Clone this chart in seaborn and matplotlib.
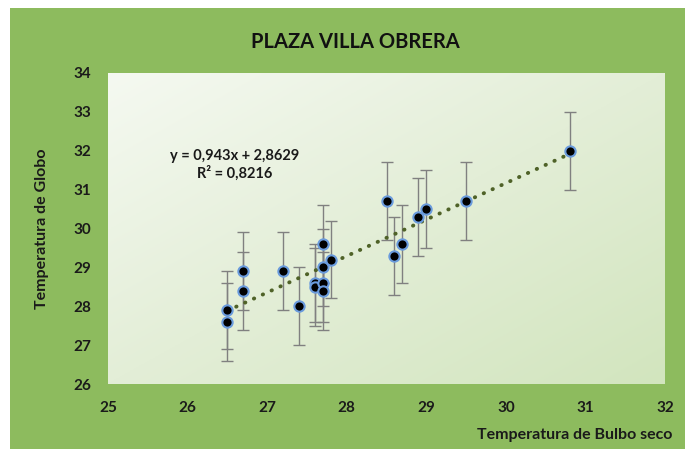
import numpy as np
import pandas as pd
import seaborn as sns
import matplotlib.pyplot as plt
from matplotlib.ticker import MultipleLocator
from matplotlib.colors import LinearSegmentedColormap
from matplotlib.patches import Rectangle

# valores
bulbo_seco = [26.5, 26.5, 26.7, 26.7, 27.2, 27.4, 27.6, 27.6, 27.7, 27.7, 27.7, 27.7,
              27.8, 28.5, 28.6, 28.7, 28.9, 29.0, 29.5, 30.8]
globo = [27.9, 27.6, 28.9, 28.4, 28.9, 28.0, 28.6, 28.5, 29.6, 29.0, 28.6, 28.4,
         29.2, 30.7, 29.3, 29.6, 30.3, 30.5, 30.7, 32.0]
error = [1.0] * len(globo)

titulo = "PLAZA VILLA OBRERA"
ecuacion = "y = 0,943x + 2,8629\nR² = 0,8216"

df = pd.DataFrame({"Bulbo": bulbo_seco, "Globo": globo, "err": error})

sns.set_style("white")
plt.rcParams['font.family'] = ['Lato', 'DejaVu Sans']
plt.rcParams['font.weight'] = 'bold'

fig = plt.figure(figsize=(6.85, 4.49), dpi=100, facecolor="white")
# fondo verde del area del grafico
fig.patches.append(Rectangle((10 / 685, 0), 1, 1 - 8 / 449, transform=fig.transFigure,
                             facecolor="#8DBB5E", edgecolor="none", zorder=-10))

ax = fig.add_axes([108 / 685, 1 - 384 / 449, 557 / 685, 311 / 449])
ax.set_facecolor("none")

# degradado del area de trazado
cmap = LinearSegmentedColormap.from_list("g", ["#F5F9F1", "#E3EED7", "#D2E5BE"])
gx, gy = np.meshgrid(np.linspace(0, 1, 200), np.linspace(0, 1, 200))
grad = (gx + gy) / 2
ax.imshow(grad, cmap=cmap, extent=[0, 1, 0, 1], transform=ax.transAxes,
          aspect="auto", origin="upper", zorder=0)

ax.errorbar(df["Bulbo"], df["Globo"], yerr=df["err"], fmt="none", ecolor="#808080",
            elinewidth=1, capsize=4, capthick=1, zorder=2)

sns.regplot(data=df, x="Bulbo", y="Globo", scatter=False, ci=None, truncate=True, ax=ax,
            line_kws=dict(color="#4F6228", lw=2.8, linestyle=(0, (0.1, 2.4)),
                          dash_capstyle="round", zorder=3))

sns.scatterplot(data=df, x="Bulbo", y="Globo", ax=ax, color="black", s=55,
                edgecolor="#6A9BDD", linewidth=1.5, zorder=4)

ax.set_xlim(25, 32)
ax.set_ylim(26, 34)
ax.xaxis.set_major_locator(MultipleLocator(1))
ax.yaxis.set_major_locator(MultipleLocator(1))
ax.xaxis.set_minor_locator(MultipleLocator(0.2))
ax.yaxis.set_minor_locator(MultipleLocator(0.2))
ax.tick_params(which="both", direction="in", color="#FFFFFF", width=0.8)
ax.tick_params(which="major", length=4, pad=12, labelsize=11, labelcolor="#1a1a1a")
ax.tick_params(which="minor", length=3)
for s in ax.spines.values():
    s.set_visible(False)

ax.set_xlabel("Temperatura de Bulbo seco", fontsize=11.5, fontweight="bold", color="#1a1a1a",
              loc="right")
ax.xaxis.set_label_coords(1.013, -0.14)
ax.set_ylabel("Temperatura de Globo", fontsize=11.5, fontweight="bold", color="#1a1a1a")
ax.yaxis.set_label_coords(-0.106, 0.5)

ax.text(0.228, 0.704, ecuacion, transform=ax.transAxes, ha="center", va="center",
        multialignment="center", fontsize=10.5, fontweight="bold", color="#1a1a1a",
        linespacing=1.2, zorder=5)

fig.text(355 / 685, 1 - 42 / 449, titulo, ha="center", va="center", fontsize=14.5,
         fontweight="bold", color="#111111")

fig.savefig("out.png", dpi=100, facecolor=fig.get_facecolor())
